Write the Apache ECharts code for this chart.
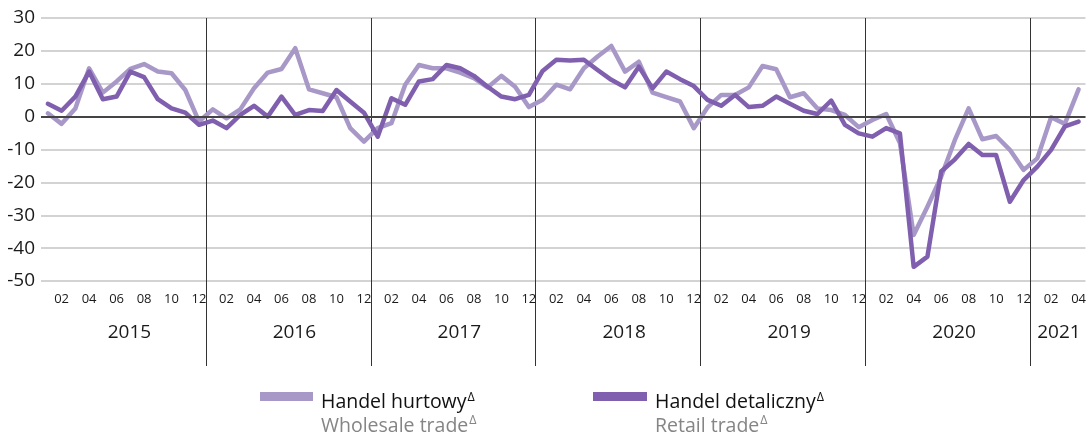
<!DOCTYPE html>
<html>
<head>
<meta charset="utf-8">
<script src="https://cdn.jsdelivr.net/npm/echarts@6/dist/echarts.min.js"></script>
<style>
html,body{margin:0;padding:0;background:#fff;}
#c{width:1089px;height:435px;}
</style>
</head>
<body>
<div id="c"></div>
<script>
// ---- data ----
var years = ['2015', '2016', '2017', '2018', '2019', '2020', '2021'];
var monthsInYear = [12, 12, 12, 12, 12, 12, 4];
var yTicks = [-50, -40, -30, -20, -10, 0, 10, 20, 30];

// Handel hurtowy / Wholesale trade
var wholesale = [
  1.0, -2.2, 2.5, 14.7, 7.3, 10.7, 14.5, 16.0, 13.7, 13.2, 8.1, -1.5,
  2.2, -0.5, 2.2, 8.6, 13.4, 14.5, 20.8, 8.3, 7.1, 5.9, -3.5, -7.6,
  -3.5, -2.0, 9.7, 15.7, 14.7, 14.7, 13.4, 11.7, 8.9, 12.4, 9.1, 2.9,
  5.1, 9.7, 8.3, 14.7, 18.3, 21.5, 13.7, 16.7, 7.3, 5.9, 4.6, -3.5,
  2.8, 6.6, 6.6, 8.9, 15.4, 14.4, 5.9, 7.1, 2.5, 2.0, 0.5, -3.2,
  -1.0, 0.8, -8.0, -36.0, -27.4, -18.3, -7.1, 2.5, -6.9, -5.9, -10.1, -16.2,
  -12.7, -0.2, -2.2, 8.3
];
// Handel detaliczny / Retail trade
var retail = [
  3.9, 1.8, 6.1, 13.7, 5.3, 6.1, 13.7, 12.0, 5.3, 2.5, 1.2, -2.5,
  -1.2, -3.5, 0.5, 3.3, 0.0, 6.1, 0.5, 2.0, 1.7, 8.1, 4.6, 1.2,
  -6.1, 5.6, 3.6, 10.7, 11.4, 15.7, 14.7, 12.4, 9.1, 6.1, 5.3, 6.6,
  13.9, 17.3, 17.1, 17.3, 14.2, 11.2, 8.9, 15.2, 8.6, 13.7, 11.4, 9.3,
  5.1, 3.3, 6.6, 2.9, 3.3, 6.1, 3.9, 1.8, 0.8, 4.9, -2.5, -5.1,
  -6.1, -3.5, -5.1, -45.7, -42.6, -16.7, -13.0, -8.3, -11.7, -11.7, -25.9, -19.3,
  -15.2, -10.1, -3.0, -1.5
];
var seriesNames = ['Handel hurtowy', 'Handel detaliczny'];
var seriesNamesEn = ['Wholesale trade', 'Retail trade'];

// ---- derived categories ----
var monthCats = [];
years.forEach(function (y, i) {
  for (var m = 1; m <= monthsInYear[i]; m++) {
    monthCats.push(y + '-' + (m < 10 ? '0' + m : '' + m));
  }
});
// boundaries (n+1 slots) for the year axis
var yearCats = [];
for (var b = 0; b <= monthCats.length; b++) yearCats.push('');
var start = 0;
years.forEach(function (y, i) {
  yearCats[start + monthsInYear[i] / 2] = y;
  start += monthsInYear[i];
});
var boundaries = {};
var acc = 0;
for (var i = 0; i < years.length - 1; i++) { acc += monthsInYear[i]; boundaries[acc] = true; }

var FONT = "'Open Sans', 'Noto Sans', sans-serif";
var cLight = '#a898c8';
var cDark = '#7f5fae';

function legendFmt(name) {
  return '{a|' + name + '}{s|Δ}';
}
var legendRich = {
  a: { fontSize: 19.5, lineHeight: 23, color: '#111', fontFamily: FONT, padding: [12, 0, 0, 0] },
  s: { fontSize: 12.5, lineHeight: 23, color: '#111', fontFamily: FONT, padding: [1, 0, 0, 1] }
};
var subRich = {
  b: { fontSize: 19.5, lineHeight: 23, fill: '#858585', fontFamily: FONT },
  t: { fontSize: 12.5, lineHeight: 23, fill: '#858585', fontFamily: FONT, padding: [0, 0, 11, 1] }
};

var chart = echarts.init(document.getElementById('c'), null, { renderer: 'canvas' });
chart.setOption({
  animation: false,
  backgroundColor: '#fff',
  textStyle: { fontFamily: FONT },
  grid: { left: 41, right: 1, top: 18, bottom: 154, containLabel: false },
  legend: [
    {
      data: [seriesNames[0]], left: 260, top: 380.5, padding: 0,
      icon: 'rect', itemWidth: 53, itemHeight: 9, itemGap: 0,
      formatter: legendFmt, textStyle: { rich: legendRich, padding: [0, 0, 0, 3] }
    },
    {
      data: [seriesNames[1]], left: 593, top: 380.5, padding: 0,
      icon: 'rect', itemWidth: 54, itemHeight: 9, itemGap: 0,
      formatter: legendFmt, textStyle: { rich: legendRich, padding: [0, 0, 0, 3] }
    }
  ],
  graphic: [
    {
      type: 'text', left: 321, top: 414, silent: true,
      style: { text: '{b|' + seriesNamesEn[0] + '}{t|Δ}', rich: subRich, fontFamily: FONT }
    },
    {
      type: 'text', left: 655, top: 414, silent: true,
      style: { text: '{b|' + seriesNamesEn[1] + '}{t|Δ}', rich: subRich, fontFamily: FONT }
    }
  ],
  xAxis: [
    {
      type: 'category', data: monthCats, boundaryGap: true,
      axisLine: { show: false }, axisTick: { show: false },
      axisLabel: {
        interval: 0, margin: 12, fontSize: 13, color: '#1a1a1a', fontFamily: FONT,
        formatter: function (v) { var m = parseInt(v.slice(5), 10); return m % 2 === 0 ? v.slice(5) : ''; }
      },
      splitLine: { show: false }
    },
    {
      type: 'category', data: yearCats, boundaryGap: false, position: 'bottom',
      axisLine: { show: false },
      axisTick: {
        show: true, length: 85, inside: false,
        interval: function (idx) { return !!boundaries[idx]; },
        lineStyle: { color: '#333', width: 1 }
      },
      axisLabel: {
        interval: function (idx, val) { return val !== ''; },
        margin: 42, fontSize: 19, color: '#1a1a1a', fontFamily: FONT,
        formatter: function (v) { return v === years[years.length - 1] ? '{z|' + v + '}' : '{y|' + v + '}'; },
        rich: {
          y: { fontSize: 19, color: '#1a1a1a', fontFamily: FONT, padding: [0, 0, 0, 12] },
          z: { fontSize: 19, color: '#1a1a1a', fontFamily: FONT, padding: [0, 0, 0, 2] }
        }
      },
      splitLine: {
        show: true,
        interval: function (idx) { return !!boundaries[idx]; },
        lineStyle: { color: '#333', width: 1 }
      }
    }
  ],
  yAxis: {
    type: 'value', min: yTicks[0], max: yTicks[yTicks.length - 1], interval: 10,
    axisLine: { show: false }, axisTick: { show: false },
    axisLabel: { margin: 6, fontSize: 19, color: '#1a1a1a', fontFamily: FONT },
    splitLine: { show: true, lineStyle: { color: '#c4c4c4', width: 1.5 } }
  },
  series: [
    {
      name: seriesNames[0], type: 'line', data: wholesale, xAxisIndex: 0,
      showSymbol: false, symbol: 'none', color: cLight,
      lineStyle: { color: cLight, width: 4.5, join: 'round', cap: 'round' },
      markLine: {
        silent: true, symbol: 'none', label: { show: false },
        lineStyle: { color: '#444', width: 2, type: 'solid' },
        data: [{ yAxis: 0 }]
      },
      z: 3
    },
    {
      name: seriesNames[1], type: 'line', data: retail, xAxisIndex: 0,
      showSymbol: false, symbol: 'none', color: cDark,
      lineStyle: { color: cDark, width: 4.5, join: 'round', cap: 'round' },
      z: 4
    }
  ]
});
</script>
</body>
</html>
